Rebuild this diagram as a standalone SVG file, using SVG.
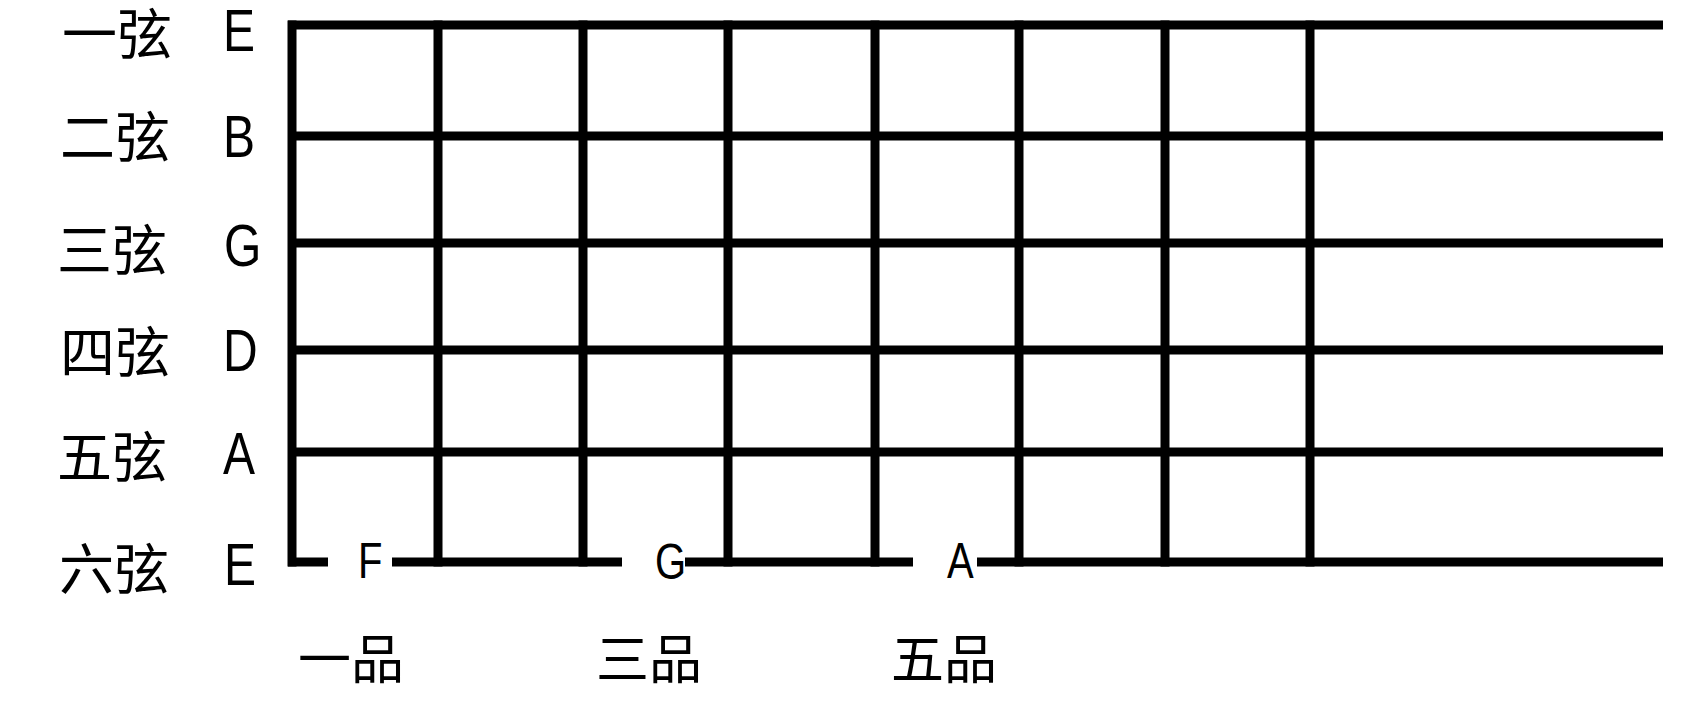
<svg xmlns="http://www.w3.org/2000/svg" width="1697" height="702" viewBox="0 0 1697 702">
<style>
.ln{stroke:#000;stroke-width:9;fill:none}
.fr{stroke:#000;stroke-width:9;fill:none;stroke-linecap:square}
.cjk{font-family:"Noto Sans CJK SC","Noto Sans CJK JP",sans-serif;font-size:55px;fill:#000}
.fl{font-family:"Noto Sans CJK SC","Noto Sans CJK JP",sans-serif;font-size:53px;fill:#000}
.lt{font-family:"Liberation Sans",Arial,sans-serif;font-size:60px;fill:#000}
.nt{font-family:"Liberation Sans",Arial,sans-serif;font-size:50px;fill:#000}
</style>
<rect width="1697" height="702" fill="#fff"/>
<g id="strings">
<line class="ln" x1="288" y1="25" x2="1663" y2="25"/>
<line class="ln" x1="288" y1="136" x2="1663" y2="136"/>
<line class="ln" x1="288" y1="243" x2="1663" y2="243"/>
<line class="ln" x1="288" y1="350" x2="1663" y2="350"/>
<line class="ln" x1="288" y1="452" x2="1663" y2="452"/>
<line class="ln" x1="288" y1="562" x2="328" y2="562"/>
<line class="ln" x1="392" y1="562" x2="622" y2="562"/>
<line class="ln" x1="685" y1="562" x2="913" y2="562"/>
<line class="ln" x1="977" y1="562" x2="1663" y2="562"/>
</g>
<g id="frets">
<line class="ln" x1="292" y1="20.5" x2="292" y2="566.5"/>
<line class="fr" x1="438" y1="25" x2="438" y2="562"/>
<line class="fr" x1="583" y1="25" x2="583" y2="562"/>
<line class="fr" x1="728" y1="25" x2="728" y2="562"/>
<line class="fr" x1="875" y1="25" x2="875" y2="562"/>
<line class="fr" x1="1019" y1="25" x2="1019" y2="562"/>
<line class="fr" x1="1165" y1="25" x2="1165" y2="562"/>
<line class="fr" x1="1310" y1="25" x2="1310" y2="562"/>
</g>
<g id="string-labels">
<text class="cjk" x="62" y="54">一弦</text>
<text class="cjk" x="60" y="157">二弦</text>
<text class="cjk" x="57" y="270">三弦</text>
<text class="cjk" x="60" y="372">四弦</text>
<text class="cjk" x="57" y="477">五弦</text>
<text class="cjk" x="59" y="589">六弦</text>
</g>
<g id="note-labels">
<text class="lt" transform="translate(223,51) scale(0.8,1)">E</text>
<text class="lt" transform="translate(223,157) scale(0.8,1)">B</text>
<text class="lt" transform="translate(224,266) scale(0.8,1)">G</text>
<text class="lt" transform="translate(223,371) scale(0.8,1)">D</text>
<text class="lt" transform="translate(223,474) scale(0.8,1)">A</text>
<text class="lt" transform="translate(224,585) scale(0.8,1)">E</text>
<text class="nt" transform="translate(358,578) scale(0.8,1)">F</text>
<text class="nt" transform="translate(655,579) scale(0.8,1)">G</text>
<text class="nt" transform="translate(947,578) scale(0.8,1)">A</text>
</g>
<g id="fret-labels">
<text class="fl" x="298" y="679">一品</text>
<text class="fl" x="596" y="679">三品</text>
<text class="fl" x="891" y="679">五品</text>
</g>
</svg>
